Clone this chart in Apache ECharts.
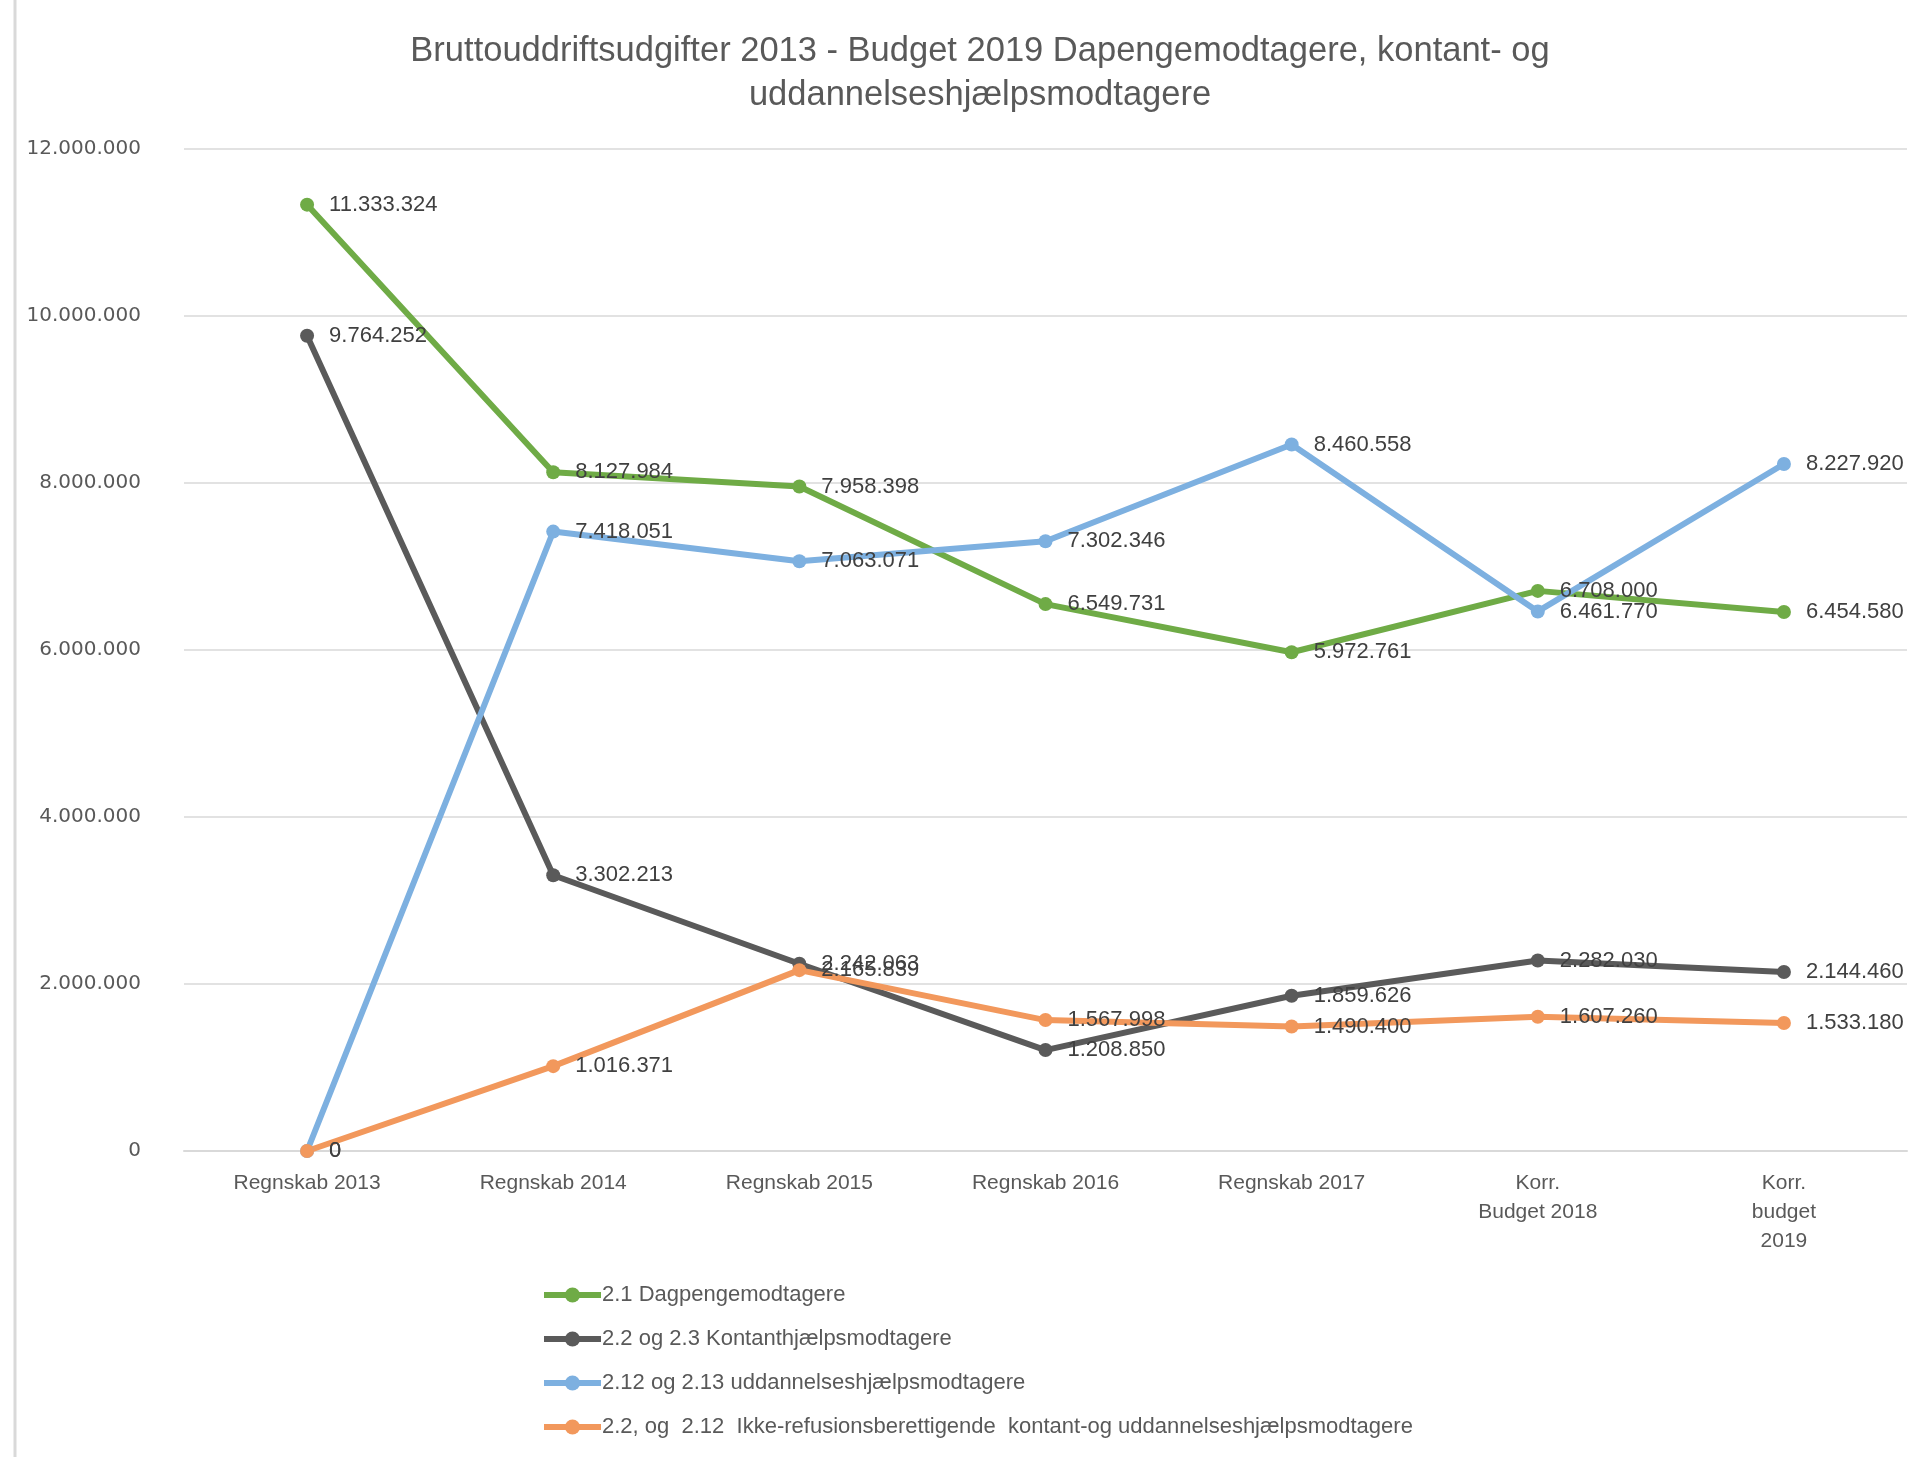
<!DOCTYPE html>
<html>
<head>
<meta charset="utf-8">
<script src="https://cdn.jsdelivr.net/npm/echarts@6/dist/echarts.min.js"></script>
<style>
html,body{margin:0;padding:0;background:#fff;}
#chart{width:1928px;height:1457px;}
</style>
</head>
<body>
<div id="chart"></div>
<script>
const categories = ["Regnskab 2013", "Regnskab 2014", "Regnskab 2015", "Regnskab 2016", "Regnskab 2017", "Korr.\nBudget 2018", "Korr.\nbudget\n2019"];
const seriesNames = [
  "2.1 Dagpengemodtagere",
  "2.2 og 2.3 Kontanthjælpsmodtagere",
  "2.12 og 2.13 uddannelseshjælpsmodtagere",
  "2.2, og  2.12  Ikke-refusionsberettigende  kontant-og uddannelseshjælpsmodtagere"
];
const dagpenge = [11333324, 8127984, 7958398, 6549731, 5972761, 6708000, 6454580];
const kontant = [9764252, 3302213, 2242063, 1208850, 1859626, 2282030, 2144460];
const uddannelse = [0, 7418051, 7063071, 7302346, 8460558, 6461770, 8227920];
const ikkeRefusion = [0, 1016371, 2165839, 1567998, 1490400, 1607260, 1533180];
const colors = ["#6FAB46", "#5A5A5A", "#7DB0E0", "#F2985C"];

function fmt(v) {
  return String(Math.round(v)).replace(/\B(?=(\d{3})+(?!\d))/g, ".");
}

const FONT = "Liberation Sans";
const chart = echarts.init(document.getElementById('chart'));

function mkSeries(name, data, color) {
  return {
    name: name,
    type: 'line',
    data: data,
    symbol: 'circle',
    symbolSize: 14,
    lineStyle: { width: 6, color: color },
    itemStyle: { color: color },
    label: {
      show: true,
      position: 'right',
      distance: 15,
      formatter: p => fmt(p.value),
      color: '#404040',
      fontSize: 22,
      fontFamily: FONT
    },
    emphasis: { disabled: true },
    animation: false
  };
}

chart.setOption({
  backgroundColor: '#ffffff',
  animation: false,
  title: {
    text: "Bruttouddriftsudgifter 2013 - Budget 2019 Dapengemodtagere, kontant- og\nuddannelseshjælpsmodtagere",
    left: 975,
    textAlign: 'center',
    top: 24,
    textStyle: {
      fontFamily: FONT,
      fontSize: 34.5,
      fontWeight: 'normal',
      color: '#595959',
      lineHeight: 44
    }
  },
  grid: { left: 184, right: 21, top: 149, bottom: 306, containLabel: false },
  legend: {
    orient: 'vertical',
    left: 536,
    top: 1279,
    itemWidth: 57,
    itemHeight: 19,
    itemGap: 22,
    lineStyle: { width: 6 },
    textStyle: { fontFamily: FONT, fontSize: 22, color: '#595959', padding: [0,0,0,-4] },
    data: seriesNames
  },
  xAxis: {
    type: 'category',
    data: categories,
    boundaryGap: true,
    axisLine: { lineStyle: { color: '#d9d9d9', width: 2 } },
    axisTick: { show: false },
    axisLabel: {
      fontFamily: FONT, fontSize: 21, color: '#595959', margin: 18, lineHeight: 29, interval: 0
    }
  },
  yAxis: {
    type: 'value',
    min: 0, max: 12000000, interval: 2000000,
    axisLine: { show: false },
    axisTick: { show: false },
    splitLine: { lineStyle: { color: '#d9d9d9', width: 1.5 } },
    axisLabel: {
      fontFamily: "DejaVu Sans", fontSize: 20, color: '#595959', margin: 43,
      formatter: v => fmt(v)
    }
  },
  graphic: [{
    type: 'line',
    shape: { x1: 15, y1: 0, x2: 15, y2: 1457 },
    style: { stroke: '#d9d9d9', lineWidth: 3 }
  }],
  series: [
    mkSeries(seriesNames[0], dagpenge, colors[0]),
    mkSeries(seriesNames[1], kontant, colors[1]),
    mkSeries(seriesNames[2], uddannelse, colors[2]),
    mkSeries(seriesNames[3], ikkeRefusion, colors[3])
  ]
});
</script>
</body>
</html>
